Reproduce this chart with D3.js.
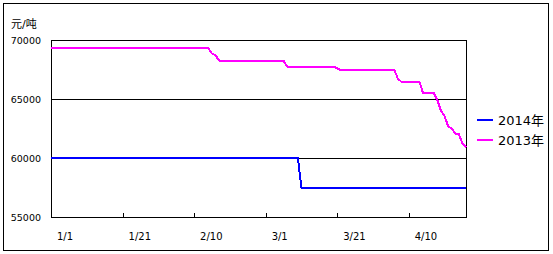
<!DOCTYPE html>
<html>
<head>
<meta charset="utf-8">
<script src="https://cdn.jsdelivr.net/npm/d3@7"></script>
<style>
  body { margin: 0; background: #fff; }
  svg text { font-family: "DejaVu Sans", "Noto Sans CJK SC", sans-serif; }
</style>
</head>
<body>
<svg id="chart" width="553" height="254"></svg>
<script>
// day labels every 20 days from 1/1
const tickDays = [0, 20, 40, 60, 80, 100]
const tickLabels = ["1/1", "1/21", "2/10", "3/1", "3/21", "4/10"]
const yTicks = [55000, 60000, 65000, 70000]
const seriesNames = ["2014年", "2013年"]

// daily prices, day 0 = 1/1
const price2014 = [
  60000, 60000, 60000, 60000, 60000, 60000, 60000, 60000, 60000, 60000,
  60000, 60000, 60000, 60000, 60000, 60000, 60000, 60000, 60000, 60000,
  60000, 60000, 60000, 60000, 60000, 60000, 60000, 60000, 60000, 60000,
  60000, 60000, 60000, 60000, 60000, 60000, 60000, 60000, 60000, 60000,
  60000, 60000, 60000, 60000, 60000, 60000, 60000, 60000, 60000, 60000,
  60000, 60000, 60000, 60000, 60000, 60000, 60000, 60000, 60000, 60000,
  60000, 60000, 60000, 60000, 60000, 60000, 60000, 60000, 60000, 60000,
  57500, 57500, 57500, 57500, 57500, 57500, 57500, 57500, 57500, 57500,
  57500, 57500, 57500, 57500, 57500, 57500, 57500, 57500, 57500, 57500,
  57500, 57500, 57500, 57500, 57500, 57500, 57500, 57500, 57500, 57500,
  57500, 57500, 57500, 57500, 57500, 57500, 57500, 57500, 57500, 57500,
  57500, 57500, 57500, 57500, 57500, 57500, 57500
]
const price2013 = [
  69300, 69300, 69300, 69300, 69300, 69300, 69300, 69300, 69300, 69300,
  69300, 69300, 69300, 69300, 69300, 69300, 69300, 69300, 69300, 69300,
  69300, 69300, 69300, 69300, 69300, 69300, 69300, 69300, 69300, 69300,
  69300, 69300, 69300, 69300, 69300, 69300, 69300, 69300, 69300, 69300,
  69300, 69300, 69300, 69300, 69300, 68850, 68700, 68250, 68250, 68250,
  68250, 68250, 68250, 68250, 68250, 68250, 68250, 68250, 68250, 68250,
  68250, 68250, 68250, 68250, 68250, 68250, 67750, 67750, 67750, 67750,
  67750, 67750, 67750, 67750, 67750, 67750, 67750, 67750, 67750, 67750,
  67600, 67450, 67450, 67450, 67450, 67450, 67450, 67450, 67450, 67450,
  67450, 67450, 67450, 67450, 67450, 67450, 67450, 66700, 66450, 66450,
  66450, 66450, 66450, 66450, 65500, 65500, 65500, 65500, 64900, 64000,
  63550, 62700, 62500, 62050, 62000, 61250, 60900
]

const svg = d3.select("#chart")
const margin = {left: 51, right: 466, top: 40, bottom: 217}

// outer frame
svg.append("rect")
  .attr("x", 3.5).attr("y", 3.5)
  .attr("width", 545).attr("height", 247)
  .attr("fill", "none").attr("stroke", "#000")

const x = d3.scaleLinear().domain([0, 116]).range([margin.left, margin.right])
const y = d3.scaleLinear().domain([55000, 70000]).range([margin.bottom, margin.top])

// gridlines
svg.append("g")
  .selectAll("line")
  .data([60000, 65000])
  .enter()
  .append("line")
  .attr("x1", margin.left).attr("x2", margin.right)
  .attr("y1", d => Math.round(y(d)) + 0.5).attr("y2", d => Math.round(y(d)) + 0.5)
  .attr("stroke", "#000")

// plot frame
svg.append("rect")
  .attr("x", margin.left + 0.5).attr("y", margin.top + 0.5)
  .attr("width", margin.right - margin.left).attr("height", margin.bottom - margin.top)
  .attr("fill", "none").attr("stroke", "#000")

// x ticks (inside)
svg.append("g")
  .selectAll("line")
  .data(tickDays.slice(1))
  .enter()
  .append("line")
  .attr("x1", d => Math.round(x(d)) + 0.5).attr("x2", d => Math.round(x(d)) + 0.5)
  .attr("y1", margin.bottom - 4).attr("y2", margin.bottom)
  .attr("stroke", "#000")

svg.append("g")
  .selectAll("text")
  .data(tickDays)
  .enter()
  .append("text")
  .attr("x", d => x(d) + 6)
  .attr("y", 240)
  .attr("font-size", "10px")
  .text((d, i) => tickLabels[i])

// y labels
svg.append("g")
  .selectAll("text")
  .data(yTicks)
  .enter()
  .append("text")
  .attr("x", 41)
  .attr("y", d => y(d) + 3.5)
  .attr("text-anchor", "end")
  .attr("font-size", "9.5px")
  .text(d => d)

svg.append("text")
  .attr("x", 11).attr("y", 28)
  .attr("font-size", "11px")
  .attr("font-family", "Noto Sans CJK SC")
  .text("元/吨")

const line = d3.line()
  .x((d, i) => x(i))
  .y(d => y(d))

const series = [
  {name: seriesNames[0], values: price2014, color: "#0000ff"},
  {name: seriesNames[1], values: price2013, color: "#ff00ff"}
]

svg.append("g")
  .selectAll("path")
  .data(series)
  .enter()
  .append("path")
  .attr("d", d => line(d.values))
  .attr("fill", "none")
  .attr("stroke", d => d.color)
  .attr("stroke-width", 2)
  .attr("shape-rendering", "crispEdges")

// legend
const legend = svg.append("g")
  .selectAll("g")
  .data(series)
  .enter()
  .append("g")
  .attr("transform", (d, i) => "translate(477," + (120 + i * 20) + ")")

legend.append("line")
  .attr("x1", 0).attr("x2", 16)
  .attr("stroke", d => d.color)
  .attr("stroke-width", 2)
  .attr("shape-rendering", "crispEdges")

legend.append("text")
  .attr("x", 21).attr("y", 5)
  .attr("font-size", "13px")
  .attr("font-family", "Liberation Sans, Noto Sans CJK SC, sans-serif")
  .text(d => d.name)
</script>
</body>
</html>
